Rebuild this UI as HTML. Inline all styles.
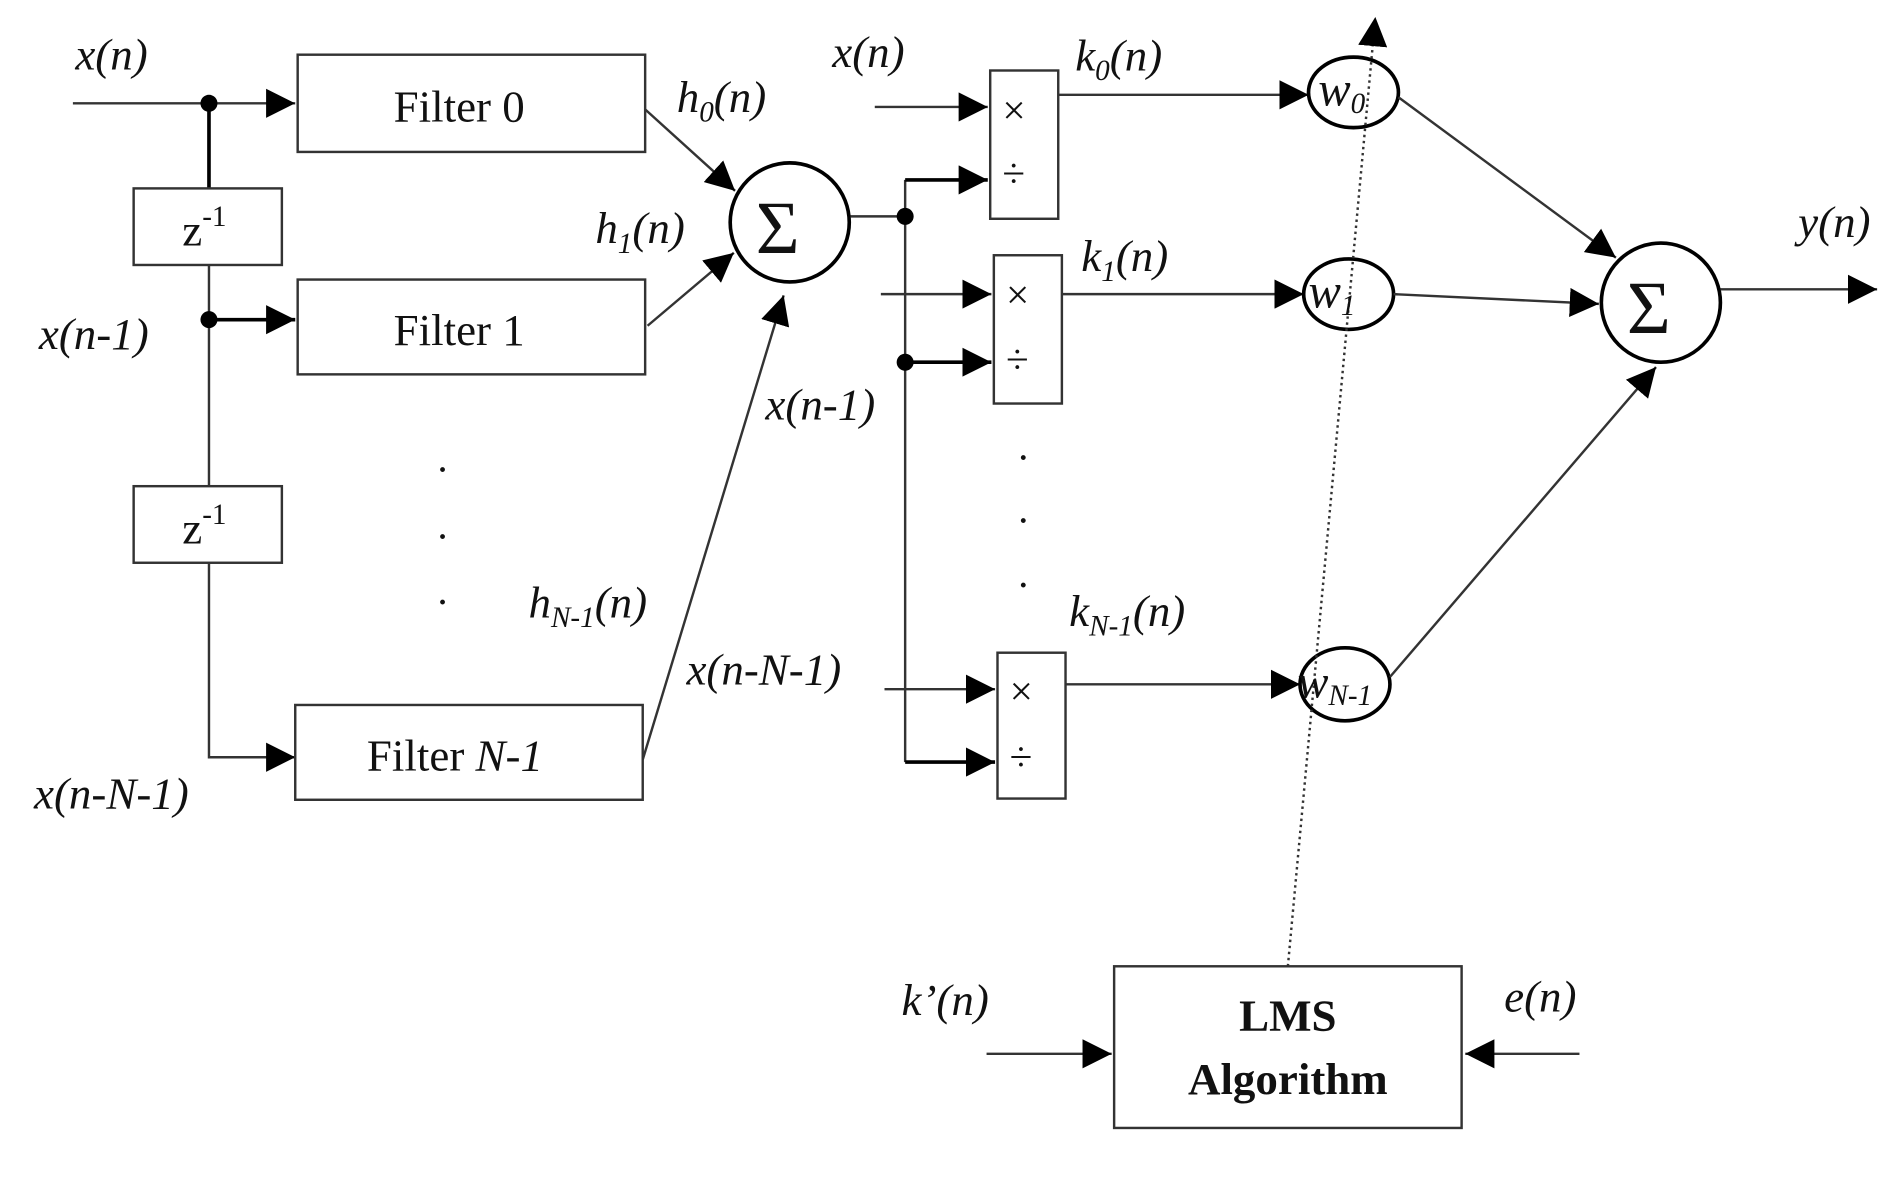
<!DOCTYPE html>
<html><head><meta charset="utf-8"><style>
html,body{margin:0;padding:0;background:#fff;}
svg{display:block;}
text{font-family:"Liberation Serif",serif;fill:#111;}
.i{font-style:italic;}
</style></head><body>
<svg width="1899" height="1179" viewBox="0 0 1563 970" preserveAspectRatio="none">
<defs>
<marker id="a" viewBox="0 0 10 10" refX="10" refY="5" markerWidth="24" markerHeight="24" markerUnits="userSpaceOnUse" orient="auto"><path d="M0,0L10,5L0,10z" fill="#000"/></marker>
</defs>
<g stroke="#333" stroke-width="2" fill="none">
<line x1="60" y1="85" x2="243" y2="85" marker-end="url(#a)"/>
<line x1="172" y1="85" x2="172" y2="155" stroke-width="3" stroke="#000"/>
<rect x="110" y="155" width="122" height="63"/>
<line x1="172" y1="218" x2="172" y2="400"/>
<line x1="172" y1="263" x2="243" y2="263" marker-end="url(#a)" stroke-width="3" stroke="#000"/>
<rect x="110" y="400" width="122" height="63"/>
<polyline points="172,463 172,623 243,623" marker-end="url(#a)"/>
<rect x="245" y="45" width="286" height="80"/>
<rect x="245" y="230" width="286" height="78"/>
<rect x="243" y="580" width="286" height="78"/>
<line x1="531" y1="90" x2="605" y2="157" marker-end="url(#a)"/>
<line x1="533" y1="268" x2="604" y2="208" marker-end="url(#a)"/>
<line x1="529" y1="625" x2="645" y2="243" marker-end="url(#a)"/>
<circle cx="650" cy="183" r="49" stroke="#000" stroke-width="3"/>
<line x1="700" y1="178" x2="745" y2="178"/>
<line x1="745" y1="148" x2="745" y2="627"/>
<line x1="745" y1="148" x2="813" y2="148" marker-end="url(#a)" stroke-width="3" stroke="#000"/>
<line x1="745" y1="298" x2="816" y2="298" marker-end="url(#a)" stroke-width="3" stroke="#000"/>
<line x1="745" y1="627" x2="819" y2="627" marker-end="url(#a)" stroke-width="3" stroke="#000"/>
<line x1="720" y1="88" x2="813" y2="88" marker-end="url(#a)"/>
<line x1="725" y1="242" x2="816" y2="242" marker-end="url(#a)"/>
<line x1="728" y1="567" x2="819" y2="567" marker-end="url(#a)"/>
<rect x="815" y="58" width="56" height="122"/>
<rect x="818" y="210" width="56" height="122"/>
<rect x="821" y="537" width="56" height="120"/>
<line x1="871" y1="78" x2="1077" y2="78" marker-end="url(#a)"/>
<line x1="874" y1="242" x2="1073" y2="242" marker-end="url(#a)"/>
<line x1="877" y1="563" x2="1070" y2="563" marker-end="url(#a)"/>
<ellipse cx="1114" cy="76" rx="37" ry="29" stroke="#000" stroke-width="3"/>
<ellipse cx="1110" cy="242" rx="37" ry="29" stroke="#000" stroke-width="3"/>
<ellipse cx="1107" cy="563" rx="37" ry="30" stroke="#000" stroke-width="3"/>
<line x1="1151" y1="80" x2="1330" y2="212" marker-end="url(#a)"/>
<line x1="1147" y1="242" x2="1316" y2="250" marker-end="url(#a)"/>
<line x1="1144" y1="557" x2="1363" y2="302" marker-end="url(#a)"/>
<circle cx="1367" cy="249" r="49" stroke="#000" stroke-width="3"/>
<line x1="1416" y1="238" x2="1545" y2="238" marker-end="url(#a)"/>
<rect x="917" y="795" width="286" height="133"/>
<line x1="812" y1="867" x2="915" y2="867" marker-end="url(#a)"/>
<line x1="1300" y1="867" x2="1206" y2="867" marker-end="url(#a)"/>
<line x1="1060" y1="795" x2="1132" y2="14" stroke-dasharray="2,3" marker-end="url(#a)"/>
</g>
<circle cx="172" cy="85" r="7" fill="#000"/>
<circle cx="172" cy="263" r="7" fill="#000"/>
<circle cx="745" cy="178" r="7" fill="#000"/>
<circle cx="745" cy="298" r="7" fill="#000"/>
<g font-size="37">
<text x="324" y="100">Filter 0</text>
<text x="324" y="284">Filter 1</text>
<text x="302" y="634">Filter <tspan class="i">N-1</tspan></text>
<text x="150" y="202">z<tspan font-size="24" dy="-16">-1</tspan></text>
<text x="150" y="447">z<tspan font-size="24" dy="-16">-1</tspan></text>
<text x="62" y="57" class="i">x(n)</text>
<text x="32" y="287" class="i">x(n-1)</text>
<text x="28" y="665" class="i">x(n-N-1)</text>
<text x="557" y="92" class="i">h<tspan font-size="24" dy="8">0</tspan><tspan dy="-8">(n)</tspan></text>
<text x="490" y="200" class="i">h<tspan font-size="24" dy="8">1</tspan><tspan dy="-8">(n)</tspan></text>
<text x="435" y="508" class="i">h<tspan font-size="24" dy="8">N-1</tspan><tspan dy="-8">(n)</tspan></text>
<text x="630" y="345" class="i">x(n-1)</text>
<text x="565" y="563" class="i">x(n-N-1)</text>
<text x="685" y="55" class="i">x(n)</text>
<text x="885" y="58" class="i">k<tspan font-size="24" dy="8">0</tspan><tspan dy="-8">(n)</tspan></text>
<text x="890" y="223" class="i">k<tspan font-size="24" dy="8">1</tspan><tspan dy="-8">(n)</tspan></text>
<text x="880" y="515" class="i">k<tspan font-size="24" dy="8">N-1</tspan><tspan dy="-8">(n)</tspan></text>
<text x="1480" y="195" class="i">y(n)</text>
<text x="742" y="835" class="i">k’(n)</text>
<text x="1238" y="832" class="i">e(n)</text>
<text x="1085" y="87" class="i" font-size="40">w<tspan font-size="24" dy="6">0</tspan></text>
<text x="1077" y="253" class="i" font-size="40">w<tspan font-size="24" dy="6">1</tspan></text>
<text x="1068" y="574" class="i" font-size="38">w<tspan font-size="24" dy="6">N-1</tspan></text>
<text x="622" y="208" font-size="62">Σ</text>
<text x="1339" y="274" font-size="62">Σ</text>
<text x="1060" y="848" text-anchor="middle" font-weight="bold">LMS</text>
<text x="1060" y="900" text-anchor="middle" font-weight="bold">Algorithm</text>
</g>
<g font-size="34">
<text x="825" y="102">×</text><text x="825" y="154">÷</text>
<text x="828" y="254">×</text><text x="828" y="307">÷</text>
<text x="831" y="580">×</text><text x="831" y="634">÷</text>
<text x="360" y="388">.</text><text x="360" y="443">.</text><text x="360" y="497">.</text>
<text x="838" y="378">.</text><text x="838" y="430">.</text><text x="838" y="483">.</text>
</g>
</svg>
</body></html>
